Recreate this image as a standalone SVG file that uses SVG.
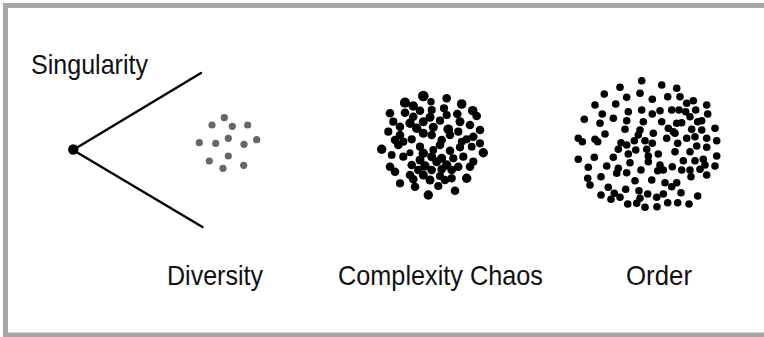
<svg xmlns="http://www.w3.org/2000/svg" width="764" height="337" viewBox="0 0 764 337">
<style>
text{font-family:"Liberation Sans Narrow","Liberation Sans","DejaVu Sans",sans-serif;font-size:28px;fill:#111;}
.g circle{fill:#666;}
.k circle{fill:#000;}
.o circle{fill:#000;}
.conn line{stroke:#000;stroke-width:2.4;stroke-linecap:round;}
</style>
<rect x="0" y="0" width="764" height="337" fill="#fff"/>
<rect x="5.5" y="5.5" width="800" height="329.5" fill="none" stroke="#a6a6a6" stroke-width="5"/>
<g id="connectors" class="conn">
<line x1="73" y1="150" x2="201" y2="73"/>
<line x1="73" y1="150" x2="202.5" y2="227"/>
</g>
<g id="singularity">
<circle cx="73.3" cy="149.5" r="5.2" fill="#000"/>
<text x="31" y="74" textLength="117" lengthAdjust="spacingAndGlyphs">Singularity</text>
</g>
<g id="diversity" class="g">
<circle cx="224.3" cy="117.7" r="3.6"/><circle cx="212" cy="125" r="3.6"/><circle cx="232.3" cy="126.3" r="3.6"/>
<circle cx="247.7" cy="125" r="3.6"/><circle cx="199.3" cy="142.7" r="3.6"/><circle cx="215.7" cy="143.3" r="3.6"/>
<circle cx="228.3" cy="138.3" r="3.6"/><circle cx="244" cy="144.3" r="3.6"/><circle cx="256.7" cy="139.7" r="3.6"/>
<circle cx="209.3" cy="161" r="3.6"/><circle cx="228.3" cy="156" r="3.6"/><circle cx="223" cy="168.3" r="3.6"/>
<circle cx="243.7" cy="165.3" r="3.6"/>
<text x="167" y="285" textLength="96" lengthAdjust="spacingAndGlyphs">Diversity</text>
</g>
<g id="complexity-chaos" class="k">
<circle cx="423.3" cy="96" r="5.3"/><circle cx="405" cy="102.7" r="5.1"/><circle cx="413.3" cy="106" r="4.7"/>
<circle cx="431" cy="101.7" r="3.7"/><circle cx="446.7" cy="98.3" r="4.3"/><circle cx="461.7" cy="104" r="4.8"/>
<circle cx="472.7" cy="110.7" r="4.8"/><circle cx="390" cy="113.3" r="4.3"/><circle cx="405" cy="112.7" r="4.3"/>
<circle cx="420" cy="110.7" r="4.3"/><circle cx="431.7" cy="110" r="4.1"/><circle cx="444" cy="108.3" r="4.1"/>
<circle cx="413.3" cy="116.7" r="4.3"/><circle cx="430" cy="117.3" r="4.5"/><circle cx="446.7" cy="115" r="4.1"/>
<circle cx="457.3" cy="114" r="4.3"/><circle cx="476.7" cy="116" r="4.3"/><circle cx="393.3" cy="121.7" r="4.1"/>
<circle cx="410" cy="123.3" r="4.7"/><circle cx="423.3" cy="121.7" r="4.5"/><circle cx="440" cy="120.7" r="4.1"/>
<circle cx="460" cy="121.7" r="4.5"/><circle cx="470" cy="125" r="4.3"/><circle cx="400" cy="126.7" r="4.3"/>
<circle cx="388.3" cy="131.7" r="4.1"/><circle cx="416.7" cy="128.3" r="4.7"/><circle cx="433.3" cy="127.3" r="4.5"/>
<circle cx="448.3" cy="129.3" r="4.9"/><circle cx="458.3" cy="131.7" r="4.1"/><circle cx="480" cy="130" r="4.3"/>
<circle cx="400" cy="135" r="4.3"/><circle cx="423.3" cy="133.3" r="4.5"/><circle cx="431.7" cy="135" r="4.3"/>
<circle cx="450" cy="135" r="4.3"/><circle cx="473.3" cy="136.7" r="4.3"/><circle cx="395" cy="140" r="4.3"/>
<circle cx="403.3" cy="141.7" r="4.1"/><circle cx="411.7" cy="139.3" r="4.1"/><circle cx="441.7" cy="140" r="4.3"/>
<circle cx="466.7" cy="139.3" r="4.1"/><circle cx="461.7" cy="141.7" r="3.9"/><circle cx="480" cy="143.3" r="4.1"/>
<circle cx="381.7" cy="149.3" r="4.7"/><circle cx="398.3" cy="145" r="4.3"/><circle cx="420" cy="146.7" r="4.1"/>
<circle cx="440" cy="145" r="4.3"/><circle cx="460" cy="147.3" r="4.1"/><circle cx="471.7" cy="146.7" r="3.9"/>
<circle cx="391.7" cy="155" r="3.9"/><circle cx="410" cy="152.7" r="3.5"/><circle cx="423.3" cy="153.3" r="4.7"/>
<circle cx="433.3" cy="150" r="3.9"/><circle cx="450" cy="150.7" r="4.3"/><circle cx="483.3" cy="152.7" r="4.7"/>
<circle cx="403.3" cy="156.7" r="4.1"/><circle cx="420" cy="160" r="4.5"/><circle cx="431.7" cy="156.7" r="4.5"/>
<circle cx="441.7" cy="158.3" r="4.5"/><circle cx="453.3" cy="158.3" r="4.1"/><circle cx="463.3" cy="156.7" r="4.1"/>
<circle cx="473.3" cy="161.7" r="4.1"/><circle cx="390" cy="166.7" r="4.3"/><circle cx="411.7" cy="165" r="4.3"/>
<circle cx="425" cy="166" r="4.7"/><circle cx="436.7" cy="161.7" r="4.5"/><circle cx="446.7" cy="165" r="4.7"/>
<circle cx="458.3" cy="166.7" r="4.3"/><circle cx="470" cy="166.7" r="4.3"/><circle cx="395" cy="171.7" r="4.3"/>
<circle cx="418.3" cy="170" r="4.3"/><circle cx="431.7" cy="170" r="4.3"/><circle cx="441.7" cy="169.3" r="4.3"/>
<circle cx="451.7" cy="170" r="4.3"/><circle cx="410" cy="175" r="4.3"/><circle cx="423.3" cy="175" r="4.5"/>
<circle cx="440" cy="176" r="4.1"/><circle cx="466.7" cy="178.3" r="4.7"/><circle cx="400" cy="183.3" r="4.1"/>
<circle cx="413.3" cy="179.3" r="4.3"/><circle cx="430" cy="180" r="4.5"/><circle cx="445" cy="180" r="4.3"/>
<circle cx="451.7" cy="178.3" r="4.1"/><circle cx="415" cy="186.7" r="4.3"/><circle cx="438.3" cy="186" r="4.1"/>
<circle cx="455" cy="190.7" r="4.3"/><circle cx="428.3" cy="195" r="4.7"/>
<text x="338" y="285" textLength="205" lengthAdjust="spacingAndGlyphs">Complexity Chaos</text>
</g>
<g id="order" class="o">
<circle cx="641.7" cy="80.7" r="3.8"/><circle cx="661.7" cy="85" r="3.8"/><circle cx="620" cy="87.3" r="3.8"/>
<circle cx="676.7" cy="88.3" r="3.8"/><circle cx="604.3" cy="94" r="3.8"/><circle cx="640" cy="93.3" r="3.8"/>
<circle cx="626.7" cy="97.3" r="3.8"/><circle cx="652.3" cy="99.3" r="3.8"/><circle cx="667.7" cy="96.7" r="3.8"/>
<circle cx="680" cy="96.7" r="3.8"/><circle cx="595" cy="105" r="3.8"/><circle cx="615.7" cy="104" r="3.8"/>
<circle cx="686.7" cy="103.3" r="3.8"/><circle cx="693.3" cy="100.7" r="3.8"/><circle cx="706.7" cy="105" r="3.8"/>
<circle cx="628.3" cy="111.7" r="3.8"/><circle cx="641.7" cy="110" r="3.8"/><circle cx="652.3" cy="114" r="3.8"/>
<circle cx="660" cy="110.7" r="3.8"/><circle cx="671.7" cy="110" r="3.8"/><circle cx="679" cy="110" r="3.8"/>
<circle cx="685.7" cy="111.7" r="3.8"/><circle cx="695.7" cy="110" r="3.8"/><circle cx="602.3" cy="114" r="3.8"/>
<circle cx="584.3" cy="119.3" r="3.8"/><circle cx="613.3" cy="118.3" r="3.8"/><circle cx="707.7" cy="114" r="3.8"/>
<circle cx="626.7" cy="120.7" r="3.8"/><circle cx="643.3" cy="121.7" r="3.8"/><circle cx="661.7" cy="121.7" r="3.8"/>
<circle cx="676.7" cy="123.3" r="3.8"/><circle cx="681.7" cy="122.7" r="3.8"/><circle cx="690" cy="116.7" r="3.8"/>
<circle cx="697.7" cy="121.7" r="3.8"/><circle cx="701.7" cy="120.7" r="3.8"/><circle cx="600" cy="123.3" r="3.8"/>
<circle cx="625" cy="129.3" r="3.8"/><circle cx="640" cy="130" r="3.8"/><circle cx="668.3" cy="128.3" r="3.8"/>
<circle cx="673.3" cy="131.7" r="3.8"/><circle cx="691.7" cy="129.3" r="3.8"/><circle cx="701.7" cy="130" r="3.8"/>
<circle cx="715" cy="128.3" r="3.8"/><circle cx="605" cy="134" r="3.8"/><circle cx="653.3" cy="133.3" r="3.8"/>
<circle cx="638.3" cy="135" r="3.8"/><circle cx="578.3" cy="138.3" r="3.8"/><circle cx="582.3" cy="141.7" r="3.8"/>
<circle cx="595" cy="139.3" r="3.8"/><circle cx="597.7" cy="141.7" r="3.8"/><circle cx="634.3" cy="140.7" r="3.8"/>
<circle cx="645" cy="140.7" r="3.8"/><circle cx="666.7" cy="138.3" r="3.8"/><circle cx="675" cy="133.3" r="3.8"/>
<circle cx="686.7" cy="138.3" r="3.8"/><circle cx="695" cy="136.7" r="3.8"/><circle cx="706.7" cy="138.3" r="3.8"/>
<circle cx="716.7" cy="140.7" r="3.8"/><circle cx="621" cy="142.7" r="3.8"/><circle cx="626.7" cy="145" r="3.8"/>
<circle cx="652.3" cy="143.3" r="3.8"/><circle cx="677.7" cy="143.3" r="3.8"/><circle cx="618.3" cy="149.3" r="3.8"/>
<circle cx="635.7" cy="150" r="3.8"/><circle cx="646.7" cy="149.3" r="3.8"/><circle cx="696.7" cy="146" r="3.8"/>
<circle cx="706.7" cy="147.3" r="3.8"/><circle cx="690" cy="151.7" r="3.8"/><circle cx="594.3" cy="157.3" r="3.8"/>
<circle cx="578.3" cy="159.3" r="3.8"/><circle cx="613.3" cy="157.3" r="3.8"/><circle cx="628.3" cy="154" r="3.8"/>
<circle cx="648.3" cy="156" r="3.8"/><circle cx="658.3" cy="154" r="3.8"/><circle cx="675" cy="151.7" r="3.8"/>
<circle cx="716.7" cy="156" r="3.8"/><circle cx="683.3" cy="160.7" r="3.8"/><circle cx="695" cy="160.7" r="3.8"/>
<circle cx="703.3" cy="159.3" r="3.8"/><circle cx="648.3" cy="161.7" r="3.8"/><circle cx="630" cy="162.7" r="3.8"/>
<circle cx="588.3" cy="167.3" r="3.8"/><circle cx="606.7" cy="166" r="3.8"/><circle cx="618.3" cy="168.3" r="3.8"/>
<circle cx="641" cy="170" r="3.8"/><circle cx="660" cy="165" r="3.8"/><circle cx="657.7" cy="170.7" r="3.8"/>
<circle cx="663.3" cy="170" r="3.8"/><circle cx="672.3" cy="166.7" r="3.8"/><circle cx="690" cy="170" r="3.8"/>
<circle cx="705" cy="165" r="3.8"/><circle cx="715" cy="166" r="3.8"/><circle cx="616.7" cy="173.3" r="3.8"/>
<circle cx="626.7" cy="172.7" r="3.8"/><circle cx="681.7" cy="170" r="3.8"/><circle cx="700" cy="169.3" r="3.8"/>
<circle cx="601" cy="176.7" r="3.8"/><circle cx="587.7" cy="178.3" r="3.8"/><circle cx="651.7" cy="180" r="3.8"/>
<circle cx="635" cy="180.7" r="3.8"/><circle cx="665" cy="182.7" r="3.8"/><circle cx="676.7" cy="182.7" r="3.8"/>
<circle cx="691" cy="176.7" r="3.8"/><circle cx="706.7" cy="175" r="3.8"/><circle cx="590" cy="185" r="3.8"/>
<circle cx="608.3" cy="187.3" r="3.8"/><circle cx="625.7" cy="189.3" r="3.8"/><circle cx="614.3" cy="193.3" r="3.8"/>
<circle cx="639" cy="190.7" r="3.8"/><circle cx="647.7" cy="194" r="3.8"/><circle cx="656.7" cy="197.3" r="3.8"/>
<circle cx="663.3" cy="194" r="3.8"/><circle cx="681" cy="192.7" r="3.8"/><circle cx="697.7" cy="196" r="3.8"/>
<circle cx="601" cy="195" r="3.8"/><circle cx="620" cy="197.3" r="3.8"/><circle cx="611" cy="199.3" r="3.8"/>
<circle cx="667.7" cy="202.7" r="3.8"/><circle cx="677.7" cy="202.7" r="3.8"/><circle cx="689" cy="204" r="3.8"/>
<circle cx="627.7" cy="204" r="3.8"/><circle cx="636.7" cy="203.3" r="3.8"/><circle cx="645" cy="207.3" r="3.8"/>
<circle cx="657" cy="206.7" r="3.8"/><circle cx="640" cy="198.3" r="3.8"/><circle cx="671.7" cy="186.7" r="3.8"/>
<text x="626" y="285" textLength="66" lengthAdjust="spacingAndGlyphs">Order</text>
</g>
</svg>
